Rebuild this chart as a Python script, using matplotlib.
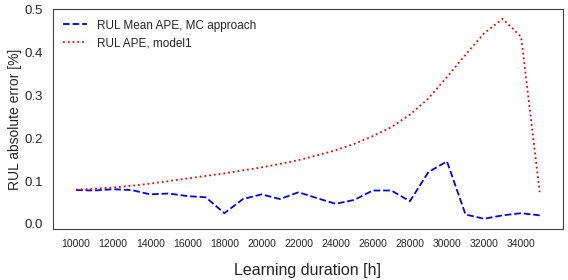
import matplotlib
matplotlib.use("Agg")
import matplotlib.pyplot as plt
import seaborn as sns

sns.set_style("white")
plt.rcParams['font.family'] = ['Liberation Sans', 'DejaVu Sans']

# learning duration [h]
hours = list(range(10000, 36000, 1000))

# RUL mean APE, MC approach
mc_ape = [0.079, 0.078, 0.081, 0.079, 0.069, 0.071, 0.065, 0.062, 0.025, 0.058,
          0.069, 0.058, 0.074, 0.060, 0.047, 0.056, 0.078, 0.078, 0.053, 0.121,
          0.146, 0.022, 0.012, 0.020, 0.025, 0.020]

# RUL APE, model1
model1_ape = [0.080, 0.082, 0.085, 0.089, 0.094, 0.100, 0.106, 0.112, 0.118, 0.125,
              0.132, 0.140, 0.149, 0.160, 0.172, 0.187, 0.205, 0.226, 0.255, 0.293,
              0.343, 0.395, 0.445, 0.479, 0.437, 0.074]

xticks = list(range(10000, 36000, 2000))

fig, ax = plt.subplots(figsize=(5.68, 2.80), dpi=100)
ax.plot(hours, mc_ape, color='blue', linestyle='--', linewidth=1.3,
        label='RUL Mean APE, MC approach')
ax.plot(hours, model1_ape, color='red', linestyle=':', linewidth=1.3,
        label='RUL APE, model1')

ax.set_xticks(xticks)
ax.tick_params(axis='x', labelsize=7.5)
ax.tick_params(axis='y', labelsize=9.5)
ax.set_ylim(-0.012, 0.502)
ax.set_yticks([0.0, 0.1, 0.2, 0.3, 0.4, 0.5])
ax.set_xlabel('Learning duration [h]', fontsize=11.5, labelpad=10)
ax.set_ylabel('RUL absolute error [%]', fontsize=10, labelpad=2)
ax.legend(loc='upper left', frameon=False, fontsize=8.5)

for s in ax.spines.values():
    s.set_color('#404040')

fig.subplots_adjust(left=0.093, right=0.991, top=0.968, bottom=0.182)
fig.savefig('out.png')
